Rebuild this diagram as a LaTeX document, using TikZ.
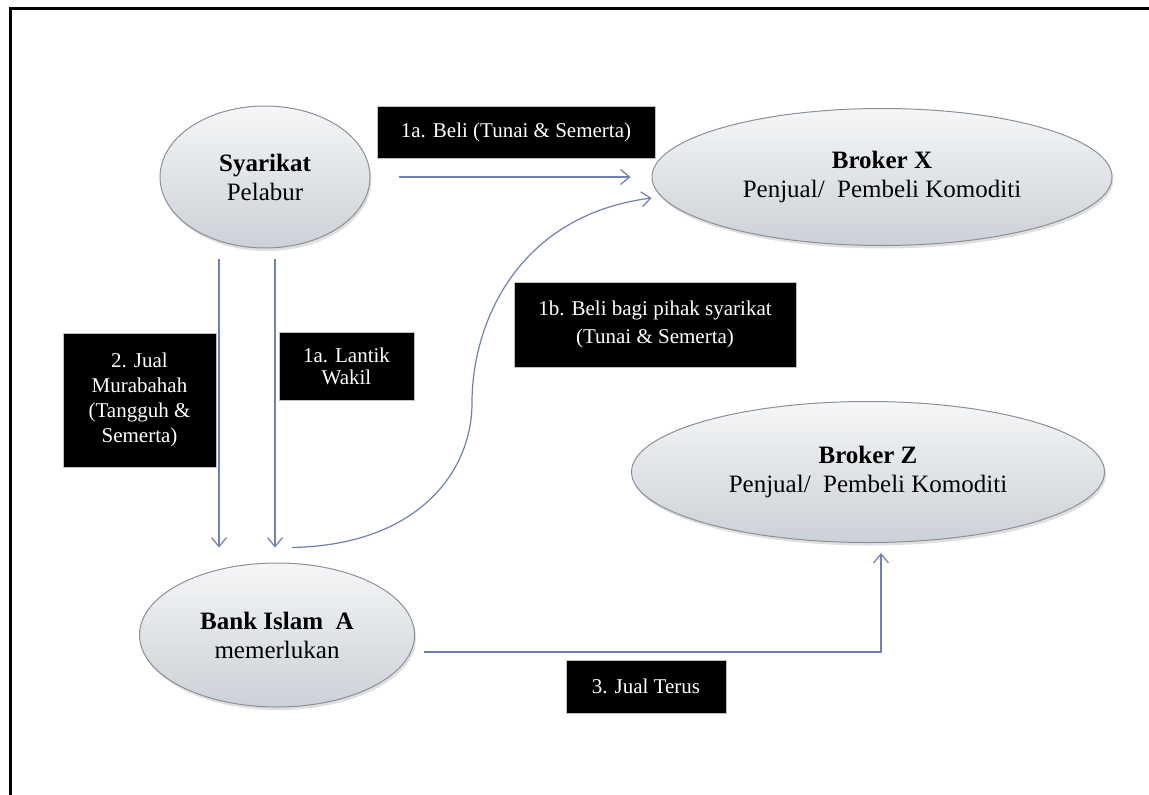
\documentclass[tikz,border=0pt]{standalone}
\usepackage{fontspec}
\setmainfont{Liberation Serif}
\usetikzlibrary{shapes.geometric,arrows.meta,shadows,calc}
\definecolor{arrowc}{HTML}{7080B2}
\definecolor{ellline}{HTML}{8C9096}
\definecolor{elltop}{HTML}{F5F6F7}
\definecolor{ellbot}{HTML}{CBD1D7}
\begin{document}
\begin{tikzpicture}[x=1pt,y=-1pt,
  party/.style={ellipse, draw=ellline, line width=1pt, top color=elltop, bottom color=ellbot,
    inner sep=0pt, align=center, font=\fontsize{25}{29}\selectfont,
    drop shadow={opacity=0.25,shadow xshift=1.5pt,shadow yshift=-3pt}},
  tag/.style={rectangle, fill=black, draw=gray!50, line width=0.6pt, inner sep=0pt, text=white,
    align=center, font=\fontsize{21}{25}\selectfont},
  flow/.style={draw=arrowc, line width=1.2pt,
    -{Straight Barb[length=9pt,width=15pt,line width=1.2pt]}}
]
\useasboundingbox (0,0) rectangle (1149,795);
\fill[white] (0,0) rectangle (1149,795);
% frame
\draw[line width=3.2pt] (10.5,795) -- (10.5,8.5) -- (1149,8.5);

% parties
\node[party, minimum width=210pt, minimum height=142pt] (syar) at (265,177) {\textbf{Syarikat}\\Pelabur};
\node[party, minimum width=460pt, minimum height=137pt] (brkx) at (882,177) {\textbf{Broker X}\\Penjual/\ \ Pembeli Komoditi};
\node[party, minimum width=473pt, minimum height=141pt] (brkz) at (868,472) {\textbf{Broker Z}\\Penjual/\ \ Pembeli Komoditi};
\node[party, minimum width=275pt, minimum height=144pt] (bank) at (277,635) {\textbf{Bank Islam\ \ A}\\memerlukan};

% labels
\node[tag, minimum width=278pt, minimum height=52pt] (t1a) at (516,132) {1a. Beli (Tunai \& Semerta)};
\node[tag, minimum width=153pt, minimum height=134pt] (t2) at (139.5,400) {2. Jual\\Murabahah\\(Tangguh \&\\Semerta)};
\node[tag, minimum width=135pt, minimum height=68pt, font=\fontsize{21}{22}\selectfont] (tlw) at (346.5,366) {1a. Lantik\\Wakil};
\node[tag, minimum width=282pt, minimum height=85pt, font=\fontsize{21}{28}\selectfont] (t1b) at (655,324.5) {1b. Beli bagi pihak syarikat\\(Tunai \& Semerta)};
\node[tag, minimum width=160pt, minimum height=53pt] (t3) at (646,686.5) {3. Jual Terus};

% connectors
\draw[flow] ([xshift=28pt]syar.east) -- ([xshift=-21pt]brkx.west);
\draw[flow] ([xshift=-46pt,yshift=-10pt]syar.south) -- ([xshift=-58pt,yshift=15pt]bank.north);
\draw[flow] ([xshift=10pt,yshift=-10pt]syar.south) -- ([xshift=-2pt,yshift=15pt]bank.north);
\draw[flow] ([xshift=15pt,yshift=15pt]bank.north) .. controls (420,545) and (472,470) .. (472,403)
  .. controls (472,320) and (520,215) .. ([yshift=-21pt]brkx.west);
\draw[flow] ([xshift=9pt,yshift=-17pt]bank.east) -| ([xshift=13pt,yshift=-10pt]brkz.south);
\end{tikzpicture}
\end{document}
